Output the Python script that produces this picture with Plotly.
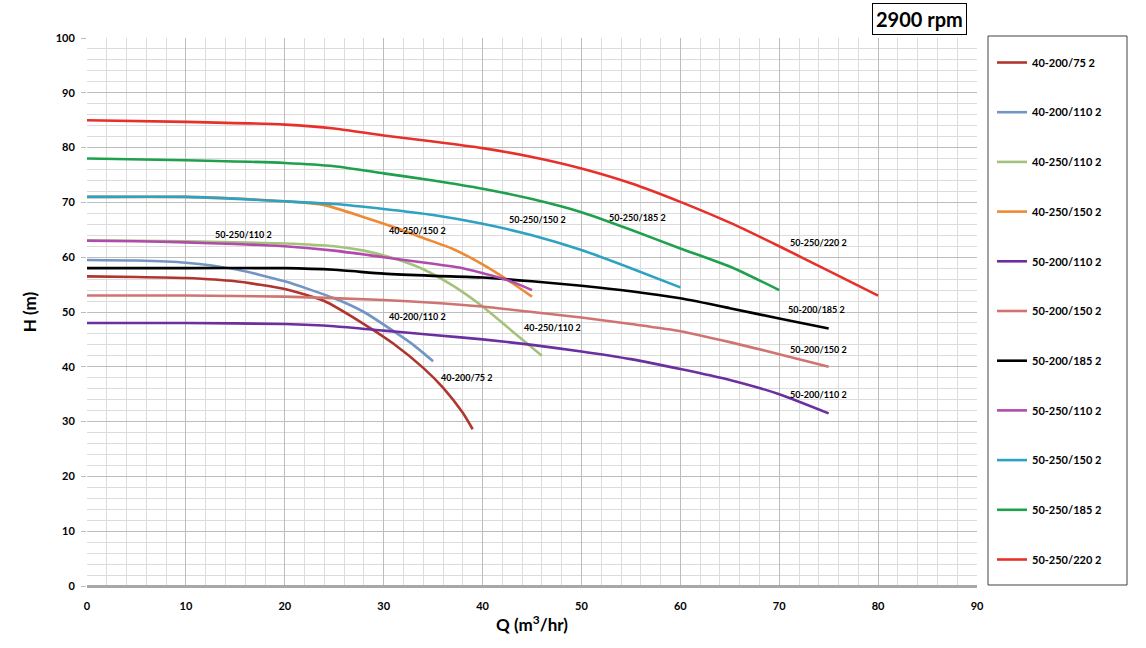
import plotly.graph_objects as go

# ---- data ----
names = ["40-200/75 2", "40-200/110 2", "40-250/110 2", "40-250/150 2",
         "50-200/110 2", "50-200/150 2", "50-200/185 2", "50-250/110 2",
         "50-250/150 2", "50-250/185 2", "50-250/220 2"]

q_40_200_75 = [0, 5, 10, 15, 20, 24, 28, 31, 34, 36, 38, 39]
h_40_200_75 = [56.5, 56.4, 56.2, 55.6, 54.2, 52.0, 47.8, 44.2, 39.8, 36.2, 31.6, 28.6]

q_40_200_110 = [0, 5, 10, 15, 20, 25, 28, 31, 33, 35]
h_40_200_110 = [59.5, 59.4, 59.0, 57.8, 55.6, 52.5, 50.0, 46.5, 44.0, 41.0]

q_40_250_110 = [0, 10, 20, 25, 28, 31, 34, 37, 40, 43, 46]
h_40_250_110 = [63.1, 62.9, 62.5, 62.0, 61.2, 59.8, 57.8, 54.8, 51.0, 46.5, 42.0]

q_40_250_150 = [0, 5, 10, 15, 20, 24, 28, 31, 34, 37, 40, 43, 45]
h_40_250_150 = [71.0, 71.0, 71.0, 70.7, 70.2, 69.5, 67.3, 65.5, 63.5, 61.5, 58.7, 55.3, 52.8]

q_50_200_110 = [0, 10, 20, 25, 30, 35, 40, 45, 50, 55, 60, 65, 70, 75]
h_50_200_110 = [48.0, 48.0, 47.8, 47.4, 46.6, 45.8, 45.0, 44.0, 42.8, 41.4, 39.6, 37.6, 35.0, 31.5]

q_50_200_150 = [0, 10, 20, 30, 35, 40, 45, 50, 55, 60, 65, 70, 75]
h_50_200_150 = [53.0, 53.0, 52.8, 52.2, 51.7, 51.0, 50.0, 49.0, 47.8, 46.5, 44.5, 42.3, 40.0]

q_50_200_185 = [0, 10, 20, 25, 30, 35, 40, 45, 50, 55, 60, 65, 70, 75]
h_50_200_185 = [58.0, 58.0, 58.0, 57.7, 57.0, 56.6, 56.3, 55.6, 54.8, 53.8, 52.5, 50.7, 48.8, 47.0]

q_50_250_110 = [0, 5, 10, 15, 20, 25, 30, 35, 38, 41, 43, 45]
h_50_250_110 = [63.0, 62.9, 62.7, 62.4, 62.0, 61.2, 60.0, 58.8, 58.0, 56.6, 55.5, 54.0]

q_50_250_150 = [0, 10, 20, 25, 30, 35, 40, 45, 50, 55, 60]
h_50_250_150 = [71.0, 71.0, 70.2, 69.7, 68.8, 67.7, 66.1, 64.0, 61.3, 58.0, 54.5]

q_50_250_185 = [0, 10, 20, 25, 30, 35, 40, 45, 50, 55, 60, 65, 70]
h_50_250_185 = [78.0, 77.7, 77.2, 76.6, 75.3, 74.0, 72.5, 70.6, 68.2, 65.0, 61.6, 58.3, 54.0]

q_50_250_220 = [0, 10, 20, 25, 30, 35, 40, 45, 50, 55, 60, 65, 70, 75, 80]
h_50_250_220 = [85.0, 84.7, 84.2, 83.5, 82.2, 81.1, 79.9, 78.3, 76.2, 73.5, 70.1, 66.3, 62.0, 57.5, 53.0]

series_q = [q_40_200_75, q_40_200_110, q_40_250_110, q_40_250_150, q_50_200_110,
            q_50_200_150, q_50_200_185, q_50_250_110, q_50_250_150, q_50_250_185, q_50_250_220]
series_h = [h_40_200_75, h_40_200_110, h_40_250_110, h_40_250_150, h_50_200_110,
            h_50_200_150, h_50_200_185, h_50_250_110, h_50_250_150, h_50_250_185, h_50_250_220]

colors = ["#B0352F", "#7394C4", "#A5C27A", "#EE8A33", "#6B2FA0", "#D07472",
          "#000000", "#B04BAC", "#2EA2C2", "#1EA04C", "#E8302A"]

# curve labels written on the chart: (text, Q, H)
curve_labels = [
    ("50-250/110 2", 15.8, 64.2), ("40-250/150 2", 33.4, 64.8),
    ("50-250/150 2", 45.6, 66.8), ("50-250/185 2", 55.7, 67.3),
    ("50-250/220 2", 74.0, 62.6), ("40-200/110 2", 33.4, 49.1),
    ("40-250/110 2", 47.1, 47.1), ("50-200/185 2", 73.8, 50.5),
    ("50-200/150 2", 74.0, 43.1), ("50-200/110 2", 74.0, 35.0),
    ("40-200/75 2", 38.4, 38.1),
]

FONT = "Lato"

fig = go.Figure()
for i, (n, q, h, c) in enumerate(zip(names, series_q, series_h, colors)):
    fig.add_trace(go.Scatter(
        x=q, y=h, name=n, mode="lines",
        line=dict(color=c, width=2.6, shape="spline", smoothing=0.6),
        legendgroup=str(i), hoverinfo="skip"))

for t, qx, hy in curve_labels:
    fig.add_annotation(x=qx, y=hy, text=t, showarrow=False,
                       font=dict(family=FONT, size=9, color="#000", weight="bold"))

# title box
fig.add_annotation(xref="paper", yref="paper", x=(919 - 87) / 890, y=(586 - 19) / 548,
                   xanchor="center", yanchor="middle",
                   text="2900 rpm", showarrow=False,
                   font=dict(family=FONT, size=20, color="#000", weight="bold"),
                   bordercolor="#000", borderwidth=1, borderpad=3, bgcolor="white")

# legend frame
fig.add_shape(type="rect", xref="paper", yref="paper",
              x0=(988 - 87) / 890, x1=(1127 - 87) / 890,
              y0=(586 - 585) / 548, y1=(586 - 36) / 548,
              line=dict(color="#404040", width=1), fillcolor="rgba(0,0,0,0)")

fig.update_layout(
    width=1146, height=648,
    margin=dict(l=87, r=169, t=38, b=62),
    paper_bgcolor="white", plot_bgcolor="white",
    font=dict(family=FONT, color="#000"),
    showlegend=True,
    legend=dict(x=(992 - 87) / 890, y=(586 - 48) / 548, xanchor="left", yanchor="top",
                font=dict(family=FONT, size=11, color="#000", weight="bold"),
                tracegroupgap=30.7, itemwidth=30, bgcolor="rgba(0,0,0,0)"),
    hovermode=False,
)

fig.update_xaxes(
    range=[0, 90], dtick=10, tick0=0,
    showgrid=True, gridcolor="#BDBDBD", gridwidth=1,
    minor=dict(dtick=2, showgrid=True, gridcolor="#DCDCDC", gridwidth=1),
    zeroline=False, showline=False, ticks="",
    ticklabelstandoff=12,
    tickfont=dict(family=FONT, size=11, color="#000", weight="bold"),
    title=dict(text="Q (m<sup>3</sup>/hr)", standoff=8,
               font=dict(family=FONT, size=17, color="#000", weight="bold")),
)
fig.update_yaxes(
    range=[0, 100], dtick=10, tick0=0,
    showgrid=True, gridcolor="#BDBDBD", gridwidth=1,
    minor=dict(dtick=2, showgrid=True, gridcolor="#DCDCDC", gridwidth=1),
    zeroline=True, zerolinecolor="#A8A8A8", zerolinewidth=2.5,
    showline=False, ticks="outside", ticklen=5, tickcolor="#BDBDBD",
    ticklabelstandoff=4,
    tickfont=dict(family=FONT, size=11, color="#000", weight="bold"),
    title=dict(text="H (m)", standoff=14,
               font=dict(family=FONT, size=17, color="#000", weight="bold")),
)

fig.write_html("out.html", config={"displayModeBar": False},
               post_script="document.body.style.margin='0px';")
